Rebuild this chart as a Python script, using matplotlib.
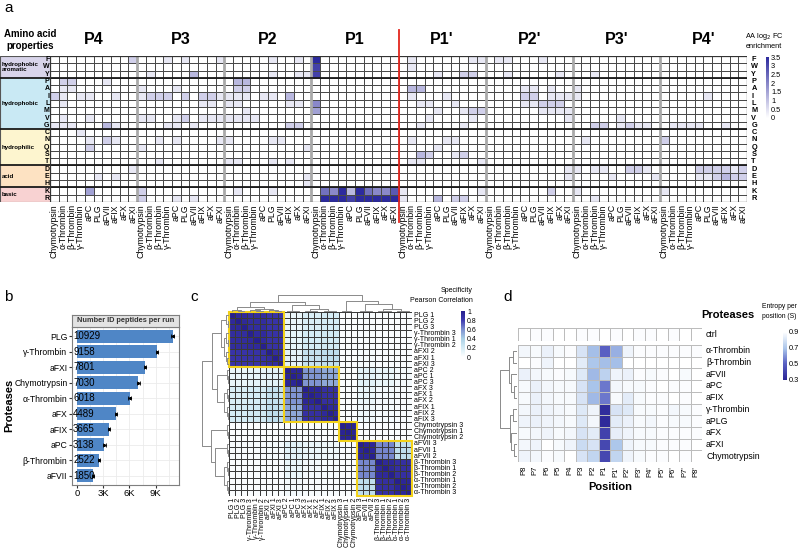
import numpy as np
import matplotlib
matplotlib.use('Agg')
import matplotlib.pyplot as plt
from matplotlib.colors import LinearSegmentedColormap
from matplotlib.patches import Rectangle
import matplotlib.cm as cm
from matplotlib.colors import Normalize

plt.rcParams['font.family'] = ['Liberation Sans', 'DejaVu Sans']

# ---------------- DATA ----------------
# Panel a: amino acid log2 FC enrichment (digits 0-9 -> 0..3.5)
aa_rows = list("FWYPAILMVGCNQSTDEHKR")
aa_groups = ["hydrophobic\naromatic", "hydrophobic", "hydrophilic", "acid", "basic"]
aa_group_sizes = [3, 7, 5, 3, 2]
proteases_a = ['Chymotrypsin', 'α-Thrombin', 'β-Thrombin', 'γ-Thrombin', 'aPC',
               'PLG', 'aFVII', 'aFIX', 'aFX', 'aFXI']
positions_a = ["P4", "P3", "P2", "P1", "P1'", "P2'", "P3'", "P4'"]

P4_fc = ["0000000002", "0000000000", "0000000000", "0220001000", "0110000000",
         "2101100100", "0100000000", "0000000000", "0100100000", "1110003100",
         "0001000000", "0000102100", "0000200000", "0000000000", "0000000000",
         "0000000001", "0000010100", "0000000000", "0000400000", "0000000000"]
P3_fc = ["0001010001", "0000000000", "0100003000", "0000000000", "1000100000",
         "1222020221", "0000000110", "0000000000", "1100120111", "0001101000",
         "0000000000", "0010100001", "1000000000", "0000000000", "0010000000",
         "0000000000", "0000000000", "0000000000", "2000000000", "2000101000"]
P2_fc = ["0000010010", "0000000000", "0000010011", "0330000000", "0220000000",
         "1110110300", "1100000110", "0010000000", "1111000000", "0000000220",
         "0000000000", "1000011000", "0000000001", "0000000000", "1100010100",
         "0000000000", "0000000001", "0000000001", "0100010000", "0000000000"]
P1_fc = ["9000000000", "8000000000", "8000000000", "0000000000", "0000000000",
         "0000000000", "5000000000", "4000000000", "0000000000", "0000000000",
         "0000000000", "0000000000", "0000000000", "0000000000", "0000000000",
         "0000000000", "0000000000", "0000000000", "0659396557", "0999899999"]
P1p_fc = ["0100000011", "0100000000", "0000100220", "0000000000", "0330000000",
          "0100010000", "0011001000", "0000100122", "0001000010", "0010000100",
          "0000000000", "0100011000", "0000100000", "0032001200", "0110000001",
          "0000000000", "0000000000", "0000000000", "1000000001", "1000302200"]
P2p_fc = ["0110001000", "0000000000", "0010000010", "0000000000", "0000110100",
          "0000220111", "0000112220", "0000001111", "0000000001", "0000000000",
          "0000000000", "0000000000", "0000000000", "0000000000", "0000000000",
          "0000000001", "0000000001", "0000000000", "0000000200", "0000000000"]
P3p_fc = ["0000000000", "0000000000", "0010000000", "0000000000", "1000000000",
          "1000000000", "0000000000", "0000000000", "0000010000", "0022012110",
          "0000000000", "0100000000", "0000000000", "0000000000", "0000000000",
          "1011002210", "0000100001", "0000000000", "1000000000", "0010000000"]
P4p_fc = ["0000000000", "0000000000", "0000000000", "0000000000", "0000000000",
          "0000010000", "0000000000", "0000000000", "0000000000", "0111100100",
          "0000000000", "2000000000", "0000000000", "0000000000", "0000000000",
          "0000222212", "0000112322", "0000000000", "1000000000", "0000000000"]
fc_blocks = [P4_fc, P3_fc, P2_fc, P1_fc, P1p_fc, P2p_fc, P3p_fc, P4p_fc]

# Panel b: number of identified peptides
proteases_b = ['PLG', 'γ-Thrombin', 'aFXI', 'Chymotrypsin', 'α-Thrombin', 'aFX',
               'aFIX', 'aPC', 'β-Thrombin', 'aFVII']
peptides_b = [10929, 9158, 7801, 7030, 6018, 4489, 3665, 3138, 2522, 1850]
peptides_sd = [150, 140, 140, 130, 140, 90, 110, 140, 80, 90]

# Panel c: Pearson correlation between protease groups
c_groups = ['PLG', 'γ-Thrombin', 'aFXI', 'aPC', 'aFX', 'aFIX', 'Chymotrypsin',
            'aFVII', 'β-Thrombin', 'α-Thrombin']
c_reps = [[1, 2, 3], [3, 1, 2], [2, 1, 3], [2, 1, 3], [3, 1, 2], [1, 2, 3],
          [3, 1, 2], [3, 1, 2], [3, 1, 2], [1, 2, 3]]
group_corr = [
    [0.93, 0.90, 0.85, 0.10, 0.18, 0.20, 0.02, 0.04, 0.03, 0.03],
    [0.90, 0.92, 0.86, 0.12, 0.20, 0.22, 0.02, 0.04, 0.03, 0.03],
    [0.85, 0.86, 0.90, 0.14, 0.28, 0.30, 0.02, 0.05, 0.03, 0.03],
    [0.10, 0.12, 0.14, 0.95, 0.58, 0.52, 0.02, 0.14, 0.10, 0.06],
    [0.18, 0.20, 0.28, 0.58, 0.95, 0.88, 0.02, 0.10, 0.06, 0.04],
    [0.20, 0.22, 0.30, 0.52, 0.88, 0.93, 0.02, 0.08, 0.05, 0.04],
    [0.02, 0.02, 0.02, 0.02, 0.02, 0.02, 0.97, 0.03, 0.02, 0.02],
    [0.04, 0.04, 0.05, 0.14, 0.10, 0.08, 0.03, 0.95, 0.62, 0.30],
    [0.03, 0.03, 0.03, 0.10, 0.06, 0.05, 0.02, 0.62, 0.93, 0.88],
    [0.03, 0.03, 0.03, 0.06, 0.04, 0.04, 0.02, 0.30, 0.88, 0.95]]
c_boxes = [(0, 9), (9, 18), (18, 21), (21, 30)]


def trip(i, h2, h1):
    return (h2, i, (h1, i + 1, i + 2))


c_tree = (1.0,
          (0.62, (0.3, trip(0, 0.1, 0.05), (0.18, trip(3, 0.1, 0.05), trip(6, 0.12, 0.06))),
           (0.45, trip(9, 0.08, 0.04), (0.2, trip(12, 0.08, 0.04), trip(15, 0.09, 0.05)))),
          (0.66, trip(18, 0.06, 0.03),
           (0.5, trip(21, 0.08, 0.04), (0.2, trip(24, 0.09, 0.05), trip(27, 0.08, 0.04)))))

# Panel d: entropy per position
positions_d = ['P8', 'P7', 'P6', 'P5', 'P4', 'P3', 'P2', 'P1',
               "P1'", "P2'", "P3'", "P4'", "P5'", "P6'", "P7'", "P8'"]
proteases_d = ['α-Thrombin', 'β-Thrombin', 'aFVII', 'aPC', 'aFIX', 'γ-Thrombin',
               'aPLG', 'aFX', 'aFXI', 'Chymotrypsin']
ctrl_entropy = [0.90, 0.89, 0.89, 0.90, 0.90, 0.89, 0.89, 0.90, 0.89, 0.90, 0.89, 0.89, 0.90, 0.89, 0.90, 0.90]
ent_aThr = [0.87, 0.88, 0.85, 0.88, 0.89, 0.80, 0.68, 0.50, 0.65, 0.86, 0.89, 0.89, 0.89, 0.89, 0.89, 0.89]
ent_bThr = [0.90, 0.89, 0.86, 0.90, 0.90, 0.83, 0.70, 0.68, 0.68, 0.90, 0.90, 0.90, 0.90, 0.90, 0.90, 0.90]
ent_aFVII = [0.85, 0.87, 0.88, 0.89, 0.88, 0.82, 0.67, 0.74, 0.86, 0.85, 0.89, 0.88, 0.89, 0.90, 0.88, 0.90]
ent_aPC = [0.88, 0.85, 0.87, 0.88, 0.88, 0.80, 0.69, 0.55, 0.87, 0.88, 0.88, 0.89, 0.90, 0.89, 0.89, 0.90]
ent_aFIX = [0.88, 0.85, 0.87, 0.88, 0.88, 0.80, 0.67, 0.55, 0.88, 0.83, 0.88, 0.89, 0.89, 0.90, 0.89, 0.90]
ent_gThr = [0.87, 0.85, 0.86, 0.87, 0.88, 0.82, 0.86, 0.33, 0.80, 0.82, 0.88, 0.88, 0.89, 0.87, 0.88, 0.89]
ent_aPLG = [0.86, 0.85, 0.86, 0.87, 0.88, 0.82, 0.87, 0.32, 0.83, 0.85, 0.88, 0.87, 0.89, 0.88, 0.88, 0.89]
ent_aFX = [0.88, 0.87, 0.86, 0.88, 0.87, 0.80, 0.83, 0.40, 0.84, 0.86, 0.88, 0.88, 0.89, 0.89, 0.89, 0.89]
ent_aFXI = [0.87, 0.86, 0.90, 0.88, 0.86, 0.77, 0.80, 0.42, 0.70, 0.86, 0.88, 0.88, 0.89, 0.89, 0.89, 0.90]
ent_Chy = [0.86, 0.87, 0.89, 0.88, 0.90, 0.80, 0.75, 0.42, 0.75, 0.86, 0.88, 0.89, 0.89, 0.90, 0.89, 0.90]
d_tree = (1.0,
          (0.5, (0.25, 0, 1), (0.35, 2, (0.2, 3, 4))),
          (0.45, (0.25, 5, 6), (0.35, 7, (0.2, 8, 9))))

# ---------------- FIGURE ----------------
W, H = 799, 548
fig = plt.figure(figsize=(W / 100, H / 100), dpi=100)


def ax_px(x0, y0, x1, y1):
    return fig.add_axes([x0 / W, 1 - y1 / H, (x1 - x0) / W, (y1 - y0) / H])


def ftxt(x, y, s, **kw):
    fig.text(x / W, 1 - y / H, s, **kw)


def draw_dendro(ax, tree, n, orient, color='#8a8a8a', lw=0.7):
    segs = []

    def rec(node):
        if isinstance(node, int):
            return node + 0.5, 0.0
        h, l, r = node
        xl, hl = rec(l)
        xr, hr = rec(r)
        segs.append(([xl, xl, xr, xr], [hl, h, h, hr]))
        return (xl + xr) / 2, h

    rec(tree)
    for xs, hs in segs:
        if orient == 'top':
            ax.plot(xs, hs, color=color, lw=lw, solid_capstyle='butt')
        else:
            ax.plot(hs, xs, color=color, lw=lw, solid_capstyle='butt')
    if orient == 'top':
        ax.set_xlim(0, n)
        ax.set_ylim(0, tree[0] * 1.03)
    else:
        ax.set_ylim(n, 0)
        ax.set_xlim(tree[0] * 1.03, 0)
    ax.axis('off')


# ---------------- PANEL A ----------------
ftxt(4, 8, 'a', fontsize=11, va='center')
mat = np.hstack([np.array([[int(ch) for ch in row] for row in blk]) for blk in fc_blocks]) * (3.5 / 9)
nr, nc = mat.shape
cmapA = LinearSegmentedColormap.from_list('a', ['#ffffff', '#2c2a9e'])
axA = ax_px(50, 56, 747, 202)
axA.pcolormesh(np.arange(nc + 1), np.arange(nr + 1), mat, cmap=cmapA, vmin=0, vmax=3.5,
               edgecolors='#4a4a4a', linewidth=0.45)
axA.set_xlim(0, nc)
axA.set_ylim(nr, 0)
axA.axis('off')
for k in range(1, len(positions_a)):
    if positions_a[k] != "P1'":
        axA.axvline(10 * k, color='#a9a9a9', lw=2.0, zorder=3)
bounds = np.cumsum(aa_group_sizes)[:-1]
for b in bounds:
    axA.axhline(b, color='#1a1a1a', lw=1.3, zorder=4)
axA.add_patch(Rectangle((0, 0), nc, nr, fill=False, ec='#333333', lw=0.9, zorder=5))
axA.plot([40, 40], [-3.5, 22.7], color='#e3261e', lw=1.3, clip_on=False, zorder=10)
for k, p in enumerate(positions_a):
    axA.text(10 * k + 5, -2.2, p, fontsize=11.5, fontweight='bold', ha='center', va='center')
for c in range(nc):
    axA.text(c + 0.5, nr + 0.3, proteases_a[c % 10], rotation=90, ha='center', va='top',
             fontsize=6.3)
for i, aa in enumerate(aa_rows):
    axA.text(nc + 0.5, i + 0.5, aa, fontsize=5.3, fontweight='bold', ha='left', va='center')

axP = ax_px(0, 56, 50, 202)
grp_colors = ['#d8d4ea', '#c9e9f4', '#fdf5cf', '#fde2c2', '#f8d2d2']
start = 0
for g, sz, col in zip(aa_groups, aa_group_sizes, grp_colors):
    axP.add_patch(Rectangle((0, start), 50, sz, color=col, lw=0))
    axP.text(1.5, start + sz / 2, g, fontsize=4.4, fontweight='bold', ha='left', va='center',
             linespacing=1.05)
    start += sz
for i, aa in enumerate(aa_rows):
    axP.text(49.5, i + 0.5, aa, fontsize=5.0, fontweight='bold', ha='right', va='center')
for b in bounds:
    axP.axhline(b, color='#1a1a1a', lw=1.3)
axP.add_patch(Rectangle((0, 0), 50, nr, fill=False, ec='#555555', lw=0.8))
axP.set_xlim(0, 50)
axP.set_ylim(nr, 0)
axP.axis('off')
ftxt(30, 40, 'Amino acid\nproperties', fontsize=7, fontweight='bold', ha='center', va='center')

caxA = ax_px(766, 57, 769, 118)
cbA = fig.colorbar(cm.ScalarMappable(Normalize(0, 3.5), cmapA), cax=caxA)
tA = [0, 0.5, 1, 1.5, 2, 2.5, 3, 3.5]
cbA.set_ticks(tA)
cbA.set_ticklabels(['0', '0.5', '1', '1.5', '2', '2.5', '3', '3.5'])
cbA.ax.tick_params(labelsize=5.3, length=0, pad=1.5)
cbA.outline.set_visible(False)
ftxt(764, 40, 'AA log$_2$ FC\nenrichment', fontsize=5.3, ha='center', va='center')

# ---------------- PANEL B ----------------
ftxt(4, 297, 'b', fontsize=11, va='center')
axB = ax_px(72, 327, 179, 485)
yb = np.arange(len(proteases_b))
axB.barh(yb, peptides_b, height=0.85, color='#4f86c6', zorder=2)
axB.errorbar(peptides_b, yb, xerr=peptides_sd, fmt='o', ms=1.2, color='black',
             elinewidth=0.6, capsize=1.2, capthick=0.6, zorder=3)
for y, v in zip(yb, peptides_b):
    axB.text(-420, y, str(v), fontsize=7, ha='left', va='center', zorder=4)
axB.set_xlim(-555, 11655)
axB.set_ylim(len(proteases_b) - 0.4, -0.6)
axB.set_xticks([0, 3000, 6000, 9000])
axB.set_xticklabels(['0', '3K', '6K', '9K'])
axB.set_xticks([1500, 4500, 7500, 10500], minor=True)
axB.set_yticks(yb)
axB.set_yticklabels(proteases_b)
axB.tick_params(labelsize=6.2, length=2, color='#333333', pad=1.2)
axB.tick_params(axis='x', labelsize=6.8)
axB.tick_params(which='minor', length=0)
axB.grid(True, which='both', color='#ebebeb', lw=0.6, zorder=0)
axB.set_axisbelow(True)
for s in axB.spines.values():
    s.set_color('#7f7f7f')
    s.set_linewidth(0.8)
axS = ax_px(72, 315, 179, 327)
axS.set_facecolor('#e3e3e3')
axS.set_xticks([])
axS.set_yticks([])
for s in axS.spines.values():
    s.set_color('#7f7f7f')
    s.set_linewidth(0.8)
axS.text(0.5, 0.5, 'Number ID peptides per run', fontsize=5.3, fontweight='bold',
         color='#333333', ha='center', va='center', transform=axS.transAxes)
ftxt(9, 405, 'Proteases', rotation=90, fontsize=8, fontweight='bold', ha='center', va='center')

# ---------------- PANEL C ----------------
ftxt(190, 297, 'c', fontsize=11, va='center')
gc = np.array(group_corr)
gi = np.repeat(np.arange(len(c_groups)), 3)
corr = gc[np.ix_(gi, gi)]
np.fill_diagonal(corr, 1.0)
labels_c = [f'{g} {r}' for g, reps in zip(c_groups, c_reps) for r in reps]
n = len(labels_c)
cmapC = LinearSegmentedColormap.from_list('c', [(0, '#ffffff'), (0.2, '#d5ecf5'), (0.4, '#a9cfe5'),
                                                (0.6, '#7c8fd0'), (0.8, '#3e3ab0'), (1, '#27208f')])
axC = ax_px(229, 312, 412, 496)
axC.pcolormesh(np.arange(n + 1), np.arange(n + 1), corr, cmap=cmapC, vmin=0, vmax=1,
               edgecolors='#3a3a3a', linewidth=0.4)
for s, e in c_boxes:
    axC.add_patch(Rectangle((s, s), e - s, e - s, fill=False, ec='#f3d21a', lw=1.5, zorder=5,
                            clip_on=False))
axC.set_xlim(0, n)
axC.set_ylim(n, 0)
axC.axis('off')
for i, lab in enumerate(labels_c):
    axC.text(n + 0.3, i + 0.5, lab, fontsize=5, ha='left', va='center')
    axC.text(i + 0.5, n + 0.3, lab, fontsize=5, ha='center', va='top', rotation=90)
axCt = ax_px(229, 295, 412, 312)
draw_dendro(axCt, c_tree, n, 'top')
axCl = ax_px(201, 312, 229, 496)
draw_dendro(axCl, c_tree, n, 'left')
caxC = ax_px(461, 311, 465, 357)
cbC = fig.colorbar(cm.ScalarMappable(Normalize(0, 1), cmapC), cax=caxC)
cbC.set_ticks([0, 0.2, 0.4, 0.6, 0.8, 1])
cbC.set_ticklabels(['0', '0.2', '0.4', '0.6', '0.8', '1'])
cbC.ax.tick_params(labelsize=5, length=0, pad=1.5)
cbC.outline.set_visible(False)
ftxt(473, 291, 'Specificity', fontsize=5, ha='right', va='center')
ftxt(473, 301, 'Pearson Correlation', fontsize=5, ha='right', va='center')

# ---------------- PANEL D ----------------
ftxt(503, 297, 'd', fontsize=11, va='center')
ent = np.array([ent_aThr, ent_bThr, ent_aFVII, ent_aPC, ent_aFIX, ent_gThr,
                ent_aPLG, ent_aFX, ent_aFXI, ent_Chy])
cmapD = LinearSegmentedColormap.from_list('d', [(0, '#2b2596'), (0.35, '#5b62c4'),
                                                (0.65, '#a9c4ea'), (1, '#ffffff')])
nd, md = ent.shape
axD0 = ax_px(518, 328, 702, 341)
axD0.pcolormesh(np.arange(md + 1), [0, 1], np.array([ctrl_entropy]), cmap=cmapD, vmin=0.3,
                vmax=0.9, edgecolors='#bcbcbc', linewidth=0.7)
axD0.set_xlim(0, md)
axD0.set_ylim(1, 0)
axD0.axis('off')
axD0.text(md + 0.35, 0.5, 'ctrl', fontsize=6.3, ha='left', va='center')
axD = ax_px(518, 345, 702, 462)
axD.pcolormesh(np.arange(md + 1), np.arange(nd + 1), ent, cmap=cmapD, vmin=0.3, vmax=0.9,
               edgecolors='#bcbcbc', linewidth=0.7)
axD.set_xlim(0, md)
axD.set_ylim(nd, 0)
axD.axis('off')
for i, lab in enumerate(proteases_d):
    axD.text(md + 0.35, i + 0.5, lab, fontsize=6.3, ha='left', va='center')
for j, lab in enumerate(positions_d):
    axD.text(j + 0.5, nd + 0.35, lab, fontsize=5.5, ha='center', va='top', rotation=90)
axDl = ax_px(500, 345, 517, 462)
draw_dendro(axDl, d_tree, nd, 'left')
ftxt(610, 487, 'Position', fontsize=8, fontweight='bold', ha='center', va='center')
ftxt(728, 315, 'Proteases', fontsize=8, fontweight='bold', ha='center', va='center')
ftxt(779, 306, 'Entropy per', fontsize=4.9, ha='center', va='center')
ftxt(779, 317, 'position (S)', fontsize=4.9, ha='center', va='center')
caxD = ax_px(783, 332, 787, 380)
cbD = fig.colorbar(cm.ScalarMappable(Normalize(0.3, 0.9), cmapD), cax=caxD)
cbD.set_ticks([0.3, 0.5, 0.7, 0.9])
cbD.set_ticklabels(['0.3', '0.5', '0.7', '0.9'])
cbD.ax.tick_params(labelsize=5.3, length=0, pad=1.5)
cbD.outline.set_visible(False)

fig.savefig('out.png', dpi=100)
